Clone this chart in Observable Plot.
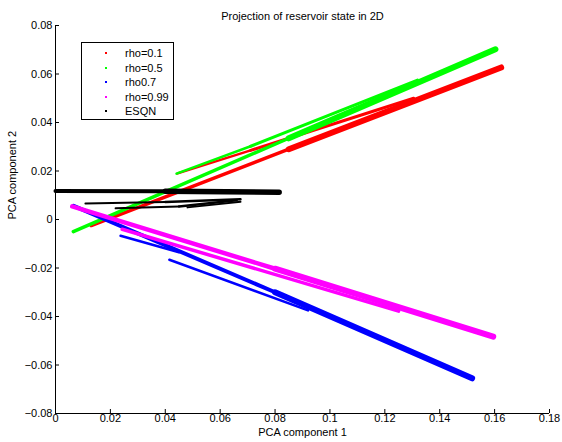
<!DOCTYPE html>
<html>
<head>
<meta charset="utf-8">
<script src="https://cdn.jsdelivr.net/npm/d3@7"></script>
<script src="https://cdn.jsdelivr.net/npm/@observablehq/plot@0.6"></script>
<style>
  html, body { margin: 0; padding: 0; background: #fff; }
  #wrap { position: relative; width: 562px; height: 442px; font-family: "Liberation Sans", Arial, Helvetica, sans-serif; }
  #legend { position: absolute; left: 81px; top: 42px; width: 93px; height: 78px; box-sizing: border-box; border: 1px solid #000; background: #fff; font-size: 11px; }
  #legend .row { position: absolute; left: 0; height: 14px; line-height: 14px; width: 100%; }
  #legend .dot { position: absolute; left: 23px; top: 6px; width: 2px; height: 2px; }
  #legend .lab { position: absolute; left: 43px; top: 0; white-space: nowrap; color: #000; }
</style>
</head>
<body>
<div id="wrap"><div id="chart"></div><div id="legend"></div></div>
<script>
// ---- data ----
const seriesNames = ["rho=0.1", "rho=0.5", "rho0.7", "rho=0.99", "ESQN"];
const seriesColors = ["#ff0000", "#00ff00", "#0000ff", "#ff00ff", "#000000"];

const xTicks = [0, 0.02, 0.04, 0.06, 0.08, 0.1, 0.12, 0.14, 0.16, 0.18];
const yTicks = [-0.08, -0.06, -0.04, -0.02, 0, 0.02, 0.04, 0.06, 0.08];

// strands of each point cloud: [x, y] vertices
const redMain    = [[0.013, -0.0025], [0.085, 0.029], [0.1624, 0.0627]];
const redUpper   = [[0.0445, 0.0190], [0.0711, 0.0285], [0.1305, 0.0500]];
const greenMain  = [[0.0065, -0.005], [0.085, 0.0335], [0.1603, 0.0702]];
const greenUpper = [[0.0441, 0.0189], [0.0711, 0.0302], [0.1319, 0.0575]];
const blueMain   = [[0.0066, 0.0056], [0.08, -0.030], [0.1518, -0.0655]];
const blueLowA   = [[0.0237, -0.0067], [0.045, -0.0135]];
const blueLowB   = [[0.0415, -0.0166], [0.092, -0.0375]];
const magMain    = [[0.0061, 0.0054], [0.08, -0.0203], [0.1595, -0.0483]];
const magLower   = [[0.0243, -0.004], [0.125, -0.0378]];
const blackMain  = [[0.0, 0.0118], [0.04, 0.0117], [0.0815, 0.0112]];
const blackLowA  = [[0.0109, 0.0066], [0.04, 0.0072], [0.0674, 0.0083]];
const blackLowB  = [[0.0219, 0.0046], [0.045, 0.0054], [0.066, 0.0079]];
const blackLowC  = [[0.0481, 0.005], [0.0674, 0.0073]];

// ---- build segments ----
const strands = [
  {s: 0, pts: redMain,    w: [3.5, 6]},
  {s: 0, pts: redUpper,   w: [2.5, 3]},
  {s: 1, pts: greenMain,  w: [3.5, 6]},
  {s: 1, pts: greenUpper, w: [2.5, 3]},
  {s: 2, pts: blueMain,   w: [4, 6]},
  {s: 2, pts: blueLowA,   w: [2.5]},
  {s: 2, pts: blueLowB,   w: [2.5]},
  {s: 3, pts: magMain,    w: [4.5, 6]},
  {s: 3, pts: magLower,   w: [3.5]},
  {s: 4, pts: blackMain,  w: [4, 5.5]},
  {s: 4, pts: blackLowA,  w: [2, 2.5]},
  {s: 4, pts: blackLowB,  w: [2, 2.5]},
  {s: 4, pts: blackLowC,  w: [2]}
];
const segs = [];
strands.forEach(st => {
  for (let i = 0; i < st.pts.length - 1; i++) {
    segs.push({s: st.s, x1: st.pts[i][0], y1: st.pts[i][1], x2: st.pts[i+1][0], y2: st.pts[i+1][1], w: st.w[i]});
  }
});

const fmt = d => String(+(+d).toFixed(2)).replace("-", "\u2212");
const font = '"Liberation Sans", Arial, Helvetica, sans-serif';

const bandMarks = [0, 1, 2, 3, 4].map(s =>
  Plot.link(segs.filter(d => d.s === s), {
    x1: "x1", y1: "y1", x2: "x2", y2: "y2",
    stroke: seriesColors[s], strokeWidth: "w", strokeLinecap: "round"
  })
);

const chart = Plot.plot({
  width: 562, height: 442,
  marginLeft: 55, marginRight: 13, marginTop: 25, marginBottom: 29,
  x: {domain: [0, 0.18]},
  y: {domain: [-0.08, 0.08]},
  style: {fontFamily: font, fontSize: "11px", background: "#fff", color: "#000", overflow: "visible"},
  marks: [
    ...bandMarks,
    Plot.ruleX([0], {stroke: "#000"}),
    Plot.ruleY([-0.08], {stroke: "#000"}),
    Plot.axisX({ticks: xTicks, tickSize: -4, tickPadding: 5, tickFormat: fmt, label: null, fontSize: 11}),
    Plot.axisY({ticks: yTicks, tickSize: -4, tickPadding: 7, tickFormat: fmt, label: null, fontSize: 11}),
    Plot.text(["Projection of reservoir state in 2D"], {text: d => d, frameAnchor: "top", dy: -13, fontSize: 11}),
    Plot.text(["PCA component 1"], {text: d => d, frameAnchor: "bottom", dy: 22, fontSize: 11}),
    Plot.text(["PCA component 2"], {text: d => d, frameAnchor: "left", dx: -43, rotate: -90, fontSize: 11})
  ]
});
document.getElementById("chart").appendChild(chart);

// legend
const leg = document.getElementById("legend");
const rowTops = [3, 17.5, 32, 46.5, 61];
seriesNames.forEach((n, i) => {
  const r = document.createElement("div");
  r.className = "row";
  r.style.top = rowTops[i] + "px";
  r.innerHTML = `<span class="dot" style="background:${seriesColors[i]}"></span><span class="lab">${n}</span>`;
  leg.appendChild(r);
});
</script>
</body>
</html>
